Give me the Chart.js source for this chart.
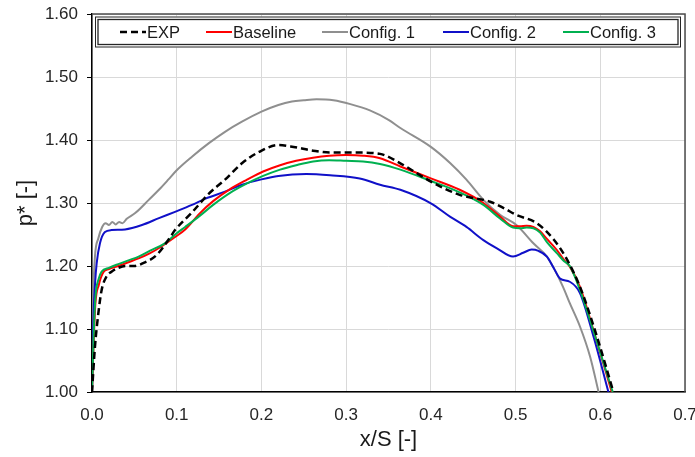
<!DOCTYPE html>
<html><head><meta charset="utf-8">
<script src="https://cdn.jsdelivr.net/npm/chart.js@4/dist/chart.umd.min.js"></script>
<style>html,body{margin:0;padding:0;background:#fff}</style>
</head><body>
<canvas id="c" width="695" height="457"></canvas>
<script>
// ---------- data ----------
const seriesNames = ["EXP", "Baseline", "Config. 1", "Config. 2", "Config. 3"];
const xTicks = [0.0, 0.1, 0.2, 0.3, 0.4, 0.5, 0.6, 0.7];
const yTicks = [1.00, 1.10, 1.20, 1.30, 1.40, 1.50, 1.60];

const expX = [0, 0.0035, 0.0075, 0.0114, 0.017, 0.023, 0.031, 0.04, 0.05, 0.061, 0.076, 0.092, 0.098, 0.118, 0.138, 0.157, 0.177, 0.197, 0.22, 0.238, 0.261, 0.281, 0.316, 0.34, 0.364, 0.4, 0.434, 0.47, 0.486, 0.501, 0.525, 0.545, 0.56, 0.576, 0.596, 0.6155];
const expY = [1.0, 1.072, 1.125, 1.162, 1.183, 1.191, 1.197, 1.200, 1.200, 1.205, 1.217, 1.245, 1.257, 1.285, 1.315, 1.337, 1.363, 1.381, 1.392, 1.389, 1.383, 1.380, 1.380, 1.378, 1.363, 1.334, 1.313, 1.302, 1.292, 1.281, 1.268, 1.242, 1.212, 1.167, 1.088, 1.0];

const baseX = [0, 0.002, 0.004, 0.008, 0.0134, 0.02, 0.031, 0.043, 0.055, 0.068, 0.082, 0.096, 0.11, 0.1275, 0.143, 0.163, 0.183, 0.202, 0.222, 0.241, 0.261, 0.28, 0.30, 0.32, 0.34, 0.364, 0.4, 0.434, 0.462, 0.482, 0.497, 0.505, 0.513, 0.521, 0.529, 0.537, 0.549, 0.557, 0.564, 0.576, 0.592, 0.6135];
const baseY = [1.0, 1.08, 1.14, 1.17, 1.19, 1.195, 1.20, 1.206, 1.212, 1.22, 1.231, 1.244, 1.258, 1.284, 1.303, 1.322, 1.337, 1.35, 1.36, 1.367, 1.372, 1.375, 1.376, 1.375, 1.371, 1.358, 1.339, 1.321, 1.30, 1.278, 1.263, 1.263, 1.264, 1.262, 1.255, 1.243, 1.225, 1.21, 1.199, 1.167, 1.098, 1.0];

const c1X = [0, 0.0015, 0.0035, 0.0075, 0.012, 0.016, 0.02, 0.024, 0.028, 0.032, 0.036, 0.041, 0.051, 0.067, 0.079, 0.09, 0.1, 0.118, 0.138, 0.157, 0.177, 0.2, 0.22, 0.236, 0.25, 0.265, 0.285, 0.305, 0.328, 0.35, 0.364, 0.4, 0.423, 0.442, 0.462, 0.482, 0.501, 0.521, 0.537, 0.545, 0.556, 0.564, 0.576, 0.588, 0.598];
const c1Y = [1.0, 1.15, 1.215, 1.244, 1.262, 1.268, 1.265, 1.27, 1.266, 1.27, 1.268, 1.275, 1.284, 1.305, 1.321, 1.337, 1.352, 1.3735, 1.395, 1.413, 1.429, 1.445, 1.4556, 1.461, 1.463, 1.4645, 1.463, 1.457, 1.447, 1.432, 1.419, 1.389, 1.363, 1.337, 1.305, 1.281, 1.265, 1.236, 1.215, 1.197, 1.167, 1.141, 1.104, 1.056, 1.0];

const c2X = [0, 0.0016, 0.0035, 0.0055, 0.0094, 0.0153, 0.023, 0.039, 0.059, 0.079, 0.098, 0.118, 0.134, 0.157, 0.177, 0.2, 0.22, 0.253, 0.281, 0.316, 0.34, 0.364, 0.4, 0.423, 0.442, 0.462, 0.478, 0.497, 0.509, 0.519, 0.527, 0.537, 0.545, 0.5525, 0.564, 0.576, 0.592, 0.6096];
const c2Y = [1.0, 1.114, 1.17, 1.204, 1.236, 1.254, 1.257, 1.258, 1.265, 1.276, 1.286, 1.297, 1.307, 1.318, 1.329, 1.3375, 1.343, 1.346, 1.344, 1.339, 1.329, 1.321, 1.2995, 1.278, 1.262, 1.241, 1.228, 1.215, 1.221, 1.226, 1.224, 1.215, 1.197, 1.180, 1.175, 1.157, 1.088, 1.0];

const c3X = [0, 0.002, 0.004, 0.008, 0.0114, 0.02, 0.031, 0.043, 0.055, 0.068, 0.086, 0.1, 0.11, 0.1275, 0.143, 0.163, 0.183, 0.202, 0.222, 0.241, 0.261, 0.28, 0.30, 0.32, 0.34, 0.364, 0.4, 0.434, 0.462, 0.482, 0.497, 0.505, 0.513, 0.521, 0.529, 0.537, 0.549, 0.557, 0.564, 0.576, 0.594, 0.6147];
const c3Y = [1.0, 1.09, 1.15, 1.18, 1.191, 1.197, 1.203, 1.209, 1.215, 1.224, 1.236, 1.252, 1.262, 1.28, 1.297, 1.316, 1.331, 1.343, 1.353, 1.36, 1.366, 1.368, 1.367, 1.366, 1.362, 1.353, 1.335, 1.317, 1.297, 1.275, 1.261, 1.26, 1.261, 1.26, 1.253, 1.238, 1.22, 1.208, 1.20, 1.162, 1.088, 1.0];

// ---------- helpers ----------
const pts = (xs, ys) => xs.map((x, i) => ({x: x, y: ys[i]}));
const FONT = "'Liberation Sans', Arial, sans-serif";

function mkSet(label, xs, ys, color, width, dash, order) {
  return {label, data: pts(xs, ys), borderColor: color, backgroundColor: color,
    borderWidth: width, borderDash: dash, pointRadius: 0, fill: false,
    cubicInterpolationMode: 'monotone', borderJoinStyle: 'round', order};
}

const frameAndLegend = {
  id: 'frameAndLegend',
  afterDatasetsDraw(chart) {
    const ctx = chart.ctx, a = chart.chartArea;
    ctx.save();
    ctx.strokeStyle = '#4d4d4d'; ctx.lineWidth = 1.5;
    ctx.beginPath();
    ctx.moveTo(a.left, a.top); ctx.lineTo(a.right, a.top); ctx.lineTo(a.right, a.bottom);
    ctx.stroke();
    const bx = a.left + 3, by = a.top + 2.5, bw = a.right - a.left - 7, bh = 31;
    ctx.fillStyle = '#fff'; ctx.fillRect(bx, by, bw, bh);
    ctx.strokeStyle = '#262626'; ctx.lineWidth = 1;
    ctx.strokeRect(bx + 0.5, by + 0.5, bw - 1, bh - 1);
    ctx.lineWidth = 1.3;
    ctx.strokeRect(bx + 3, by + 3, bw - 6, bh - 6);
    const starts = [120, 206, 322, 443, 563];
    const ly = by + bh / 2;
    ctx.font = '16.5px ' + FONT;
    ctx.textBaseline = 'middle'; ctx.textAlign = 'left';
    chart.data.datasets.forEach((ds, i) => {
      ctx.strokeStyle = ds.borderColor; ctx.lineWidth = ds.borderWidth;
      ctx.setLineDash(ds.borderDash || []);
      ctx.beginPath(); ctx.moveTo(starts[i], ly); ctx.lineTo(starts[i] + 26, ly); ctx.stroke();
      ctx.setLineDash([]);
      ctx.fillStyle = '#1a1a1a';
      ctx.fillText(ds.label, starts[i] + 27, ly + 1);
    });
    ctx.restore();
  }
};

new Chart(document.getElementById('c'), {
  type: 'line',
  data: {
    datasets: [
      mkSet(seriesNames[0], expX, expY, '#000000', 2.5, [7, 4], 0),
      mkSet(seriesNames[1], baseX, baseY, '#ff0000', 2, [], 2),
      mkSet(seriesNames[2], c1X, c1Y, '#8f8f8f', 2, [], 4),
      mkSet(seriesNames[3], c2X, c2Y, '#1010c8', 2, [], 3),
      mkSet(seriesNames[4], c3X, c3Y, '#00b050', 2, [], 1)
    ]
  },
  options: {
    responsive: false, animation: false, devicePixelRatio: 1,
    layout: {padding: {top: 14, right: 10, left: 0, bottom: 0}},
    plugins: {legend: {display: false}, tooltip: {enabled: false}},
    scales: {
      x: {
        type: 'linear', min: 0, max: 0.7,
        afterBuildTicks: s => { s.ticks = xTicks.map(v => ({value: v})); },
        afterFit: s => { s.height = 65; s.paddingLeft = 0; s.paddingRight = 0; },
        grid: {color: '#d9d9d9', lineWidth: 1, drawTicks: false},
        border: {color: '#000', width: 1.5},
        ticks: {padding: 13, color: '#262626', font: {family: FONT, size: 17},
          callback: v => Number(v).toFixed(1), maxRotation: 0},
        title: {display: true, text: 'x/S [-]', color: '#1a1a1a',
          font: {family: FONT, size: 22}, padding: {top: 0, bottom: 4}}
      },
      y: {
        type: 'linear', min: 1.0, max: 1.6,
        afterBuildTicks: s => { s.ticks = yTicks.map(v => ({value: v})); },
        afterFit: s => { s.width = 92; s.paddingTop = 0; s.paddingBottom = 0; },
        grid: {color: '#d9d9d9', lineWidth: 1, drawTicks: true, tickLength: 5, tickColor: '#000'},
        border: {color: '#000', width: 1.5},
        ticks: {padding: 9, color: '#262626', font: {family: FONT, size: 17},
          callback: v => Number(v).toFixed(2)},
        title: {display: true, text: 'p* [-]', color: '#1a1a1a',
          font: {family: FONT, size: 22}, padding: {top: 13, bottom: 0}}
      }
    }
  },
  plugins: [frameAndLegend]
});
</script>
</body></html>
